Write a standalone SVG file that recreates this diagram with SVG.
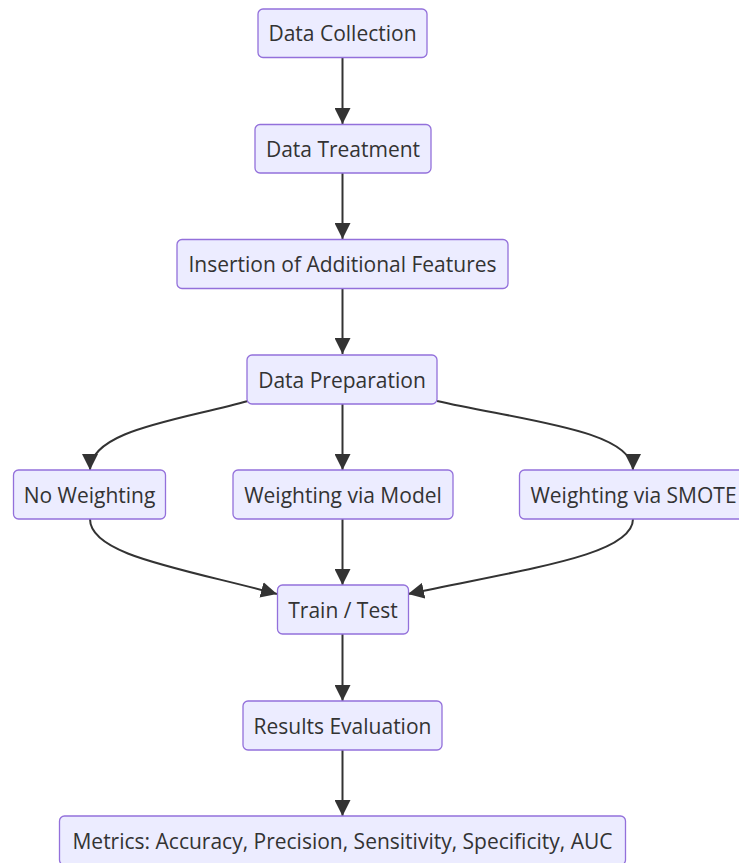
<svg xmlns="http://www.w3.org/2000/svg" width="739" height="863" viewBox="0 0 739 863">
<defs>
<marker id="arrow" viewBox="0 0 10 10" refX="10" refY="5" markerUnits="userSpaceOnUse" markerWidth="16" markerHeight="16" orient="auto">
<path d="M0,0 L10,5 L0,10 z" fill="#333333"/>
</marker>
<style>
.node rect{fill:#ECECFF;stroke:#9370DB;stroke-width:1.3}
.node text{font-family:"Open Sans","Noto Sans",sans-serif;font-size:21px;fill:#333333;text-anchor:middle;dominant-baseline:central}
.edges path{fill:none;stroke:#333333;stroke-width:2;marker-end:url(#arrow)}
</style>
</defs>
<rect width="739" height="863" fill="#ffffff"/>
<g class="edges">
<path d="M342.5,57 L342.5,124"/>
<path d="M342.5,173 L342.5,239"/>
<path d="M342.5,288 L342.5,354"/>
<path d="M248,401 C180,420 90,430 90,470"/>
<path d="M342.5,404 L342.5,470"/>
<path d="M437,401 C520,420 633,430 633,470"/>
<path d="M90,519 C90,555 180,568 277,594"/>
<path d="M342.5,519 L342.5,585"/>
<path d="M633,519 C633,555 530,568 408,594"/>
<path d="M342.5,634 L342.5,701"/>
<path d="M342.5,750 L342.5,816"/>
</g>
<g id="dataCollection" class="node"><rect x="258" y="9" width="169" height="48.5" rx="5"/><text x="342.5" y="33">Data Collection</text></g>
<g id="dataTreatment" class="node"><rect x="255" y="124.5" width="176" height="48.5" rx="5"/><text x="343" y="148.5">Data Treatment</text></g>
<g id="insertion" class="node"><rect x="177" y="239.5" width="331" height="49" rx="5"/><text x="342.5" y="264">Insertion of Additional Features</text></g>
<g id="dataPreparation" class="node"><rect x="247" y="355" width="190" height="49" rx="5"/><text x="342" y="379.5">Data Preparation</text></g>
<g id="noWeighting" class="node"><rect x="13.5" y="470" width="152" height="49" rx="5"/><text x="89.5" y="494.5">No Weighting</text></g>
<g id="weightingModel" class="node"><rect x="233" y="470" width="220" height="49" rx="5"/><text x="343" y="494.5">Weighting via Model</text></g>
<g id="weightingSmote" class="node"><rect x="519.5" y="470" width="228" height="49" rx="5"/><text x="633.5" y="494.5">Weighting via SMOTE</text></g>
<g id="trainTest" class="node"><rect x="277.5" y="585" width="131" height="49" rx="5"/><text x="343" y="609.5">Train / Test</text></g>
<g id="resultsEvaluation" class="node"><rect x="243" y="701" width="199" height="49" rx="5"/><text x="342.5" y="725.5">Results Evaluation</text></g>
<g id="metrics" class="node"><rect x="59.5" y="816" width="566" height="49" rx="5"/><text x="342.5" y="840.5">Metrics: Accuracy, Precision, Sensitivity, Specificity, AUC</text></g>
</svg>
